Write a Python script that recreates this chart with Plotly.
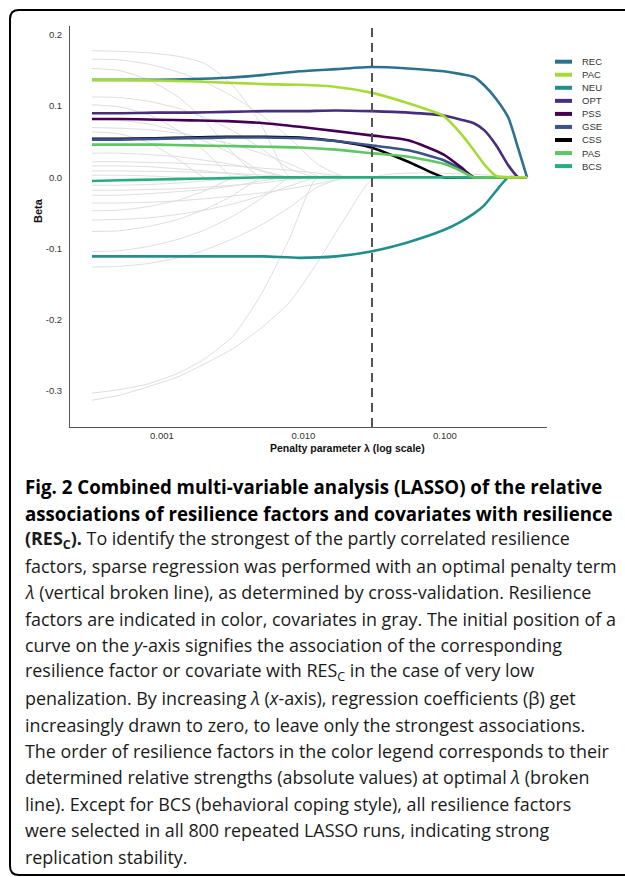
import plotly.graph_objects as go

# ---------------- data ----------------
LAMBDA = [0.00032, 0.0005, 0.00091, 0.0016, 0.0029, 0.0053, 0.0094, 0.017, 0.030,
          0.055, 0.098, 0.13, 0.16, 0.19, 0.23, 0.28, 0.33, 0.38]

FACTORS = ["REC", "PAC", "NEU", "OPT", "PSS", "GSE", "CSS", "PAS", "BCS"]

REC = [0.137, 0.137, 0.137, 0.138, 0.140, 0.144, 0.149, 0.152, 0.155, 0.153, 0.149, 0.145, 0.141, 0.129, 0.110, 0.084, 0.040, 0.0]
PAC = [0.137, 0.137, 0.136, 0.135, 0.133, 0.131, 0.130, 0.127, 0.119, 0.104, 0.086, 0.061, 0.038, 0.018, 0.002, 0.0, 0.0, 0.0]
NEU = [-0.111, -0.111, -0.111, -0.111, -0.111, -0.111, -0.113, -0.111, -0.104, -0.091, -0.074, -0.062, -0.051, -0.039, -0.019, 0.0, 0.0, 0.0]
OPT = [0.090, 0.090, 0.091, 0.091, 0.092, 0.093, 0.093, 0.094, 0.093, 0.091, 0.087, 0.081, 0.076, 0.066, 0.045, 0.017, 0.0, 0.0]
PSS = [0.082, 0.082, 0.081, 0.080, 0.079, 0.076, 0.071, 0.065, 0.059, 0.052, 0.032, 0.014, 0.0, 0.0, 0.0, 0.0, 0.0, 0.0]
GSE = [0.053, 0.053, 0.054, 0.055, 0.056, 0.056, 0.055, 0.051, 0.045, 0.038, 0.024, 0.011, 0.0, 0.0, 0.0, 0.0, 0.0, 0.0]
CSS = [0.054, 0.054, 0.055, 0.056, 0.057, 0.057, 0.056, 0.051, 0.042, 0.022, 0.0, 0.0, 0.0, 0.0, 0.0, 0.0, 0.0, 0.0]
PAS = [0.046, 0.046, 0.046, 0.045, 0.044, 0.043, 0.042, 0.039, 0.034, 0.029, 0.019, 0.009, 0.0, 0.0, 0.0, 0.0, 0.0, 0.0]
BCS = [-0.005, -0.004, -0.003, -0.002, -0.001, 0.0, 0.0, 0.0, 0.0, 0.0, 0.0, 0.0, 0.0, 0.0, 0.0, 0.0, 0.0, 0.0]

SERIES = {"REC": REC, "PAC": PAC, "NEU": NEU, "OPT": OPT, "PSS": PSS,
          "GSE": GSE, "CSS": CSS, "PAS": PAS, "BCS": BCS}

# covariates (gray paths)
GREY_LAMBDA = [0.00032, 0.0005, 0.0008, 0.0013, 0.002, 0.0032, 0.005, 0.008, 0.0125, 0.02, 0.032, 0.38]
GREY_PATHS = [
    [0.178, 0.177, 0.175, 0.170, 0.160, 0.128, 0.075, 0.0, 0, 0, 0, 0],
    [0.166, 0.165, 0.159, 0.148, 0.134, 0.113, 0.088, 0.055, 0.019, 0, 0, 0],
    [0.153, 0.150, 0.137, 0.113, 0.080, 0.033, 0, 0, 0, 0, 0, 0],
    [0.113, 0.112, 0.107, 0.097, 0.084, 0.065, 0.041, 0.012, 0, 0, 0, 0],
    [0.102, 0.099, 0.088, 0.066, 0.037, 0, 0, 0, 0, 0, 0, 0],
    [0.081, 0.080, 0.075, 0.065, 0.051, 0.032, 0.009, 0, 0, 0, 0, 0],
    [0.070, 0.069, 0.067, 0.062, 0.055, 0.046, 0.034, 0.019, 0.002, 0, 0, 0],
    [0.064, 0.061, 0.049, 0.025, 0, 0, 0, 0, 0, 0, 0, 0],
    [0.034, 0.034, 0.032, 0.029, 0.024, 0.018, 0.010, 0, 0, 0, 0, 0],
    [0.022, 0.022, 0.021, 0.020, 0.018, 0.016, 0.013, 0.010, 0.006, 0.001, 0, 0],
    [0.016, 0.016, 0.015, 0.012, 0.009, 0.005, 0, 0, 0, 0, 0, 0],
    [0.009, 0.009, 0.0085, 0.008, 0.007, 0.0055, 0.0035, 0.001, 0, 0, 0, 0],
    [0.003, 0.003, 0.002, 0, 0, 0, 0, 0, 0, 0, 0, 0],
    [-0.011, -0.011, -0.010, -0.008, -0.005, -0.001, 0, 0, 0, 0, 0, 0],
    [-0.018, -0.018, -0.017, -0.016, -0.014, -0.011, -0.008, -0.003, 0, 0, 0, 0],
    [-0.025, -0.025, -0.023, -0.020, -0.017, -0.012, -0.005, 0, 0, 0, 0, 0],
    [-0.036, -0.036, -0.035, -0.033, -0.030, -0.026, -0.022, -0.016, -0.009, -0.001, 0, 0],
    [-0.047, -0.046, -0.041, -0.032, -0.019, -0.001, 0, 0, 0, 0, 0, 0],
    [-0.060, -0.059, -0.057, -0.052, -0.046, -0.037, -0.026, -0.012, 0, 0, 0, 0],
    [-0.076, -0.075, -0.069, -0.059, -0.045, -0.025, -0.001, 0, 0, 0, 0, 0],
    [-0.104, -0.103, -0.097, -0.087, -0.074, -0.054, -0.030, 0, 0, 0, 0, 0],
    [-0.126, -0.125, -0.121, -0.113, -0.102, -0.086, -0.067, -0.042, -0.014, 0, 0, 0],
    [-0.303, -0.298, -0.290, -0.275, -0.255, -0.222, -0.165, -0.085, 0, 0, 0, 0],
    [-0.313, -0.306, -0.294, -0.280, -0.262, -0.240, -0.212, -0.175, -0.120, -0.055, 0, 0],
]

OPTIMAL_LAMBDA = 0.0305
X_TICKS = [0.001, 0.01, 0.1]
X_TICK_LABELS = ["0.001", "0.010", "0.100"]
Y_TICKS = [0.2, 0.1, 0.0, -0.1, -0.2, -0.3]
Y_TICK_LABELS = ["0.2", "0.1", "0.0", "-0.1", "-0.2", "-0.3"]

CAPTION_TITLE = [
    "Fig. 2 Combined multi-variable analysis (LASSO) of the relative",
    "associations of resilience factors and covariates with resilience",
]
CAPTION_BODY = [
    "<b>(RES<sub>C</sub>).</b> To identify the strongest of the partly correlated resilience",
    "factors, sparse regression was performed with an optimal penalty term",
    "<i>λ</i> (vertical broken line), as determined by cross-validation. Resilience",
    "factors are indicated in color, covariates in gray. The initial position of a",
    "curve on the <i>y</i>-axis signifies the association of the corresponding",
    "resilience factor or covariate with RES<sub>C</sub> in the case of very low",
    "penalization. By increasing <i>λ</i> (<i>x</i>-axis), regression coefficients (β) get",
    "increasingly drawn to zero, to leave only the strongest associations.",
    "The order of resilience factors in the color legend corresponds to their",
    "determined relative strengths (absolute values) at optimal <i>λ</i> (broken",
    "line). Except for BCS (behavioral coping style), all resilience factors",
    "were selected in all 800 repeated LASSO runs, indicating strong",
    "replication stability.",
]

# ---------------- style ----------------
COLORS = {"REC": "#2C728E", "PAC": "#A6DB36", "NEU": "#21908C", "OPT": "#472D7B",
          "PSS": "#440154", "GSE": "#3B528B", "CSS": "#000000", "PAS": "#5DC863",
          "BCS": "#27AD81"}
DRAW_ORDER = ["NEU", "CSS", "GSE", "PSS", "BCS", "PAS", "OPT", "REC", "PAC"]

W, H = 625, 877
L, R, T, B = 70, 78, 26, 450
PW, PH = W - L - R, H - T - B


def px(x):
    return (x - L) / PW


def py(y):
    return (H - B - y) / PH


fig = go.Figure()

for path in GREY_PATHS:
    fig.add_trace(go.Scatter(x=GREY_LAMBDA, y=path, mode="lines",
                             line=dict(color="#DEDEDE", width=1, shape="spline", smoothing=0.6),
                             showlegend=False, hoverinfo="skip"))

for name in DRAW_ORDER:
    fig.add_trace(go.Scatter(x=LAMBDA, y=SERIES[name], mode="lines", name=name,
                             line=dict(color=COLORS[name], width=2.6, shape="spline", smoothing=0.6),
                             showlegend=False))

shapes = []
annotations = []

# optimal lambda (dashed)
shapes.append(dict(type="line", xref="x", yref="paper", x0=OPTIMAL_LAMBDA, x1=OPTIMAL_LAMBDA,
                   y0=0, y1=1, line=dict(color="#555555", width=2, dash="9px,6px")))

# manual legend
for i, name in enumerate(FACTORS):
    yy = 61.7 + 13.05 * i
    shapes.append(dict(type="line", xref="paper", yref="paper", x0=px(555), x1=px(572),
                       y0=py(yy), y1=py(yy), line=dict(color=COLORS[name], width=4)))
    annotations.append(dict(xref="paper", yref="paper", x=px(580), y=py(yy), text=name,
                            showarrow=False, xanchor="left", yanchor="middle",
                            font=dict(family="Liberation Sans, Arial", size=9.5, color="#333333")))

# axis titles
annotations.append(dict(xref="paper", yref="paper", x=px(347), y=py(448),
                        text="<b>Penalty parameter λ (log scale)</b>", showarrow=False,
                        xanchor="center", yanchor="middle",
                        font=dict(family="Liberation Sans, Arial", size=10.5, color="#111111")))
annotations.append(dict(xref="paper", yref="paper", x=px(38), y=py(211),
                        text="<b>Beta</b>", showarrow=False, textangle=-90,
                        xanchor="center", yanchor="middle",
                        font=dict(family="Liberation Sans, Arial", size=11, color="#111111")))

# caption
LINE_Y0, LINE_DY = 486.7, 26.43
for i, line in enumerate(CAPTION_TITLE):
    annotations.append(dict(xref="paper", yref="paper", x=px(23), y=py(LINE_Y0 + LINE_DY * i),
                            text="<b>" + line + "</b>",
                            showarrow=False, xanchor="left", yanchor="middle", align="left",
                            font=dict(family="Open Sans", size=18.7, color="#000000")))
for j, line in enumerate(CAPTION_BODY):
    i = j + len(CAPTION_TITLE)
    annotations.append(dict(xref="paper", yref="paper", x=px(23), y=py(LINE_Y0 + LINE_DY * i),
                            text=line,
                            showarrow=False, xanchor="left", yanchor="middle", align="left",
                            font=dict(family="Open Sans", size=17.9, color="#1a1a1a")))

# rounded border
def P(x, y):
    return f"{px(x):.5f},{py(y):.5f}"

border = (f"M {P(660, 10)} L {P(19, 10)} Q {P(10, 10)} {P(10, 19)} "
          f"L {P(10, 866)} Q {P(10, 875)} {P(19, 875)} L {P(660, 875)}")
shapes.append(dict(type="path", xref="paper", yref="paper", path=border,
                   line=dict(color="#000000", width=2)))

fig.update_layout(
    width=W, height=H,
    margin=dict(l=L, r=R, t=T, b=B),
    paper_bgcolor="white", plot_bgcolor="white",
    showlegend=False,
    shapes=shapes, annotations=annotations,
    xaxis=dict(type="log", range=[-3.650, -0.279], tickvals=X_TICKS, ticktext=X_TICK_LABELS,
               showgrid=False, zeroline=False, showline=True, linecolor="#555555", linewidth=1,
               ticks="", ticklabelstandoff=0,
               tickfont=dict(family="Liberation Sans, Arial", size=9.5, color="#333333")),
    yaxis=dict(range=[-0.3506, 0.2126], tickvals=Y_TICKS, ticktext=Y_TICK_LABELS,
               showgrid=False, zeroline=False, showline=True, linecolor="#555555", linewidth=1,
               ticks="", ticklabelstandoff=5,
               tickfont=dict(family="Liberation Sans, Arial", size=9.5, color="#333333")),
)

fig.write_html("out.html", config={"displayModeBar": False},
               post_script="document.body.style.margin='0';document.body.style.overflow='hidden';")
